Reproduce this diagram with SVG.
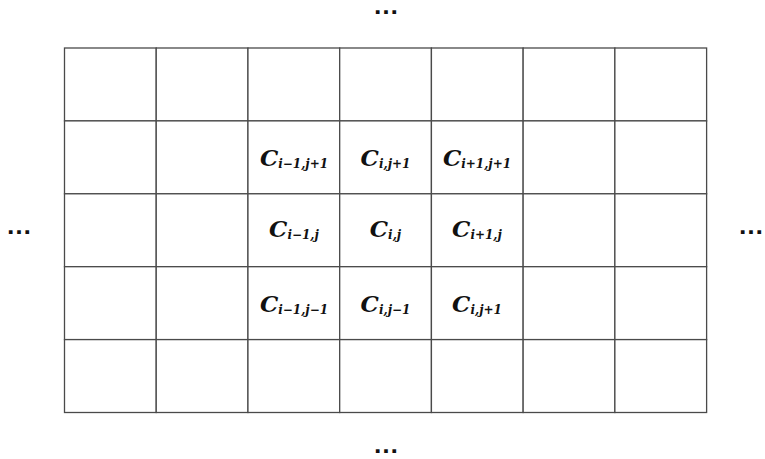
<svg xmlns="http://www.w3.org/2000/svg" width="765" height="459" viewBox="0 0 765 459">
  <style>
    .cell { fill: #ffffff; stroke: #4a4a4a; stroke-width: 1.3; }
    .lbl { font-family: "DejaVu Serif", "Liberation Serif", serif; font-weight: bold; font-style: italic; fill: #111111; }
    .c { font-size: 23px; }
    .s { font-size: 12px; }
    .dots { font-family: "Liberation Sans", Arial, sans-serif; font-weight: bold; font-size: 26px; fill: #111111; }
  </style>
  <rect width="765" height="459" fill="#ffffff"/>

  <!-- 7 x 5 grid of cells: column width 91.73, row height 72.9 -->
  <g id="grid">
    <g id="row1">
      <rect class="cell" x="64.5" y="48" width="91.73" height="72.9"/>
      <rect class="cell" x="156.23" y="48" width="91.73" height="72.9"/>
      <rect class="cell" x="247.96" y="48" width="91.73" height="72.9"/>
      <rect class="cell" x="339.69" y="48" width="91.73" height="72.9"/>
      <rect class="cell" x="431.42" y="48" width="91.73" height="72.9"/>
      <rect class="cell" x="523.15" y="48" width="91.73" height="72.9"/>
      <rect class="cell" x="614.88" y="48" width="91.73" height="72.9"/>
    </g>
    <g id="row2">
      <rect class="cell" x="64.5" y="120.9" width="91.73" height="72.9"/>
      <rect class="cell" x="156.23" y="120.9" width="91.73" height="72.9"/>
      <rect class="cell" x="247.96" y="120.9" width="91.73" height="72.9"/>
      <rect class="cell" x="339.69" y="120.9" width="91.73" height="72.9"/>
      <rect class="cell" x="431.42" y="120.9" width="91.73" height="72.9"/>
      <rect class="cell" x="523.15" y="120.9" width="91.73" height="72.9"/>
      <rect class="cell" x="614.88" y="120.9" width="91.73" height="72.9"/>
    </g>
    <g id="row3">
      <rect class="cell" x="64.5" y="193.8" width="91.73" height="72.9"/>
      <rect class="cell" x="156.23" y="193.8" width="91.73" height="72.9"/>
      <rect class="cell" x="247.96" y="193.8" width="91.73" height="72.9"/>
      <rect class="cell" x="339.69" y="193.8" width="91.73" height="72.9"/>
      <rect class="cell" x="431.42" y="193.8" width="91.73" height="72.9"/>
      <rect class="cell" x="523.15" y="193.8" width="91.73" height="72.9"/>
      <rect class="cell" x="614.88" y="193.8" width="91.73" height="72.9"/>
    </g>
    <g id="row4">
      <rect class="cell" x="64.5" y="266.7" width="91.73" height="72.9"/>
      <rect class="cell" x="156.23" y="266.7" width="91.73" height="72.9"/>
      <rect class="cell" x="247.96" y="266.7" width="91.73" height="72.9"/>
      <rect class="cell" x="339.69" y="266.7" width="91.73" height="72.9"/>
      <rect class="cell" x="431.42" y="266.7" width="91.73" height="72.9"/>
      <rect class="cell" x="523.15" y="266.7" width="91.73" height="72.9"/>
      <rect class="cell" x="614.88" y="266.7" width="91.73" height="72.9"/>
    </g>
    <g id="row5">
      <rect class="cell" x="64.5" y="339.6" width="91.73" height="72.9"/>
      <rect class="cell" x="156.23" y="339.6" width="91.73" height="72.9"/>
      <rect class="cell" x="247.96" y="339.6" width="91.73" height="72.9"/>
      <rect class="cell" x="339.69" y="339.6" width="91.73" height="72.9"/>
      <rect class="cell" x="431.42" y="339.6" width="91.73" height="72.9"/>
      <rect class="cell" x="523.15" y="339.6" width="91.73" height="72.9"/>
      <rect class="cell" x="614.88" y="339.6" width="91.73" height="72.9"/>
    </g>
  </g>

  <!-- neighbourhood labels -->
  <g id="c-im1-jp1"><text class="lbl" x="294" y="166" text-anchor="middle"><tspan class="c">C</tspan><tspan class="s" dy="2">i−1,j+1</tspan></text></g>
  <g id="c-i-jp1"><text class="lbl" x="385.5" y="166" text-anchor="middle"><tspan class="c">C</tspan><tspan class="s" dy="2">i,j+1</tspan></text></g>
  <g id="c-ip1-jp1"><text class="lbl" x="477" y="166" text-anchor="middle"><tspan class="c">C</tspan><tspan class="s" dy="2">i+1,j+1</tspan></text></g>

  <g id="c-im1-j"><text class="lbl" x="294" y="237" text-anchor="middle"><tspan class="c">C</tspan><tspan class="s" dy="2">i−1,j</tspan></text></g>
  <g id="c-i-j"><text class="lbl" x="385.5" y="237" text-anchor="middle"><tspan class="c">C</tspan><tspan class="s" dy="2">i,j</tspan></text></g>
  <g id="c-ip1-j"><text class="lbl" x="477" y="237" text-anchor="middle"><tspan class="c">C</tspan><tspan class="s" dy="2">i+1,j</tspan></text></g>

  <g id="c-im1-jm1"><text class="lbl" x="294" y="312" text-anchor="middle"><tspan class="c">C</tspan><tspan class="s" dy="2">i−1,j−1</tspan></text></g>
  <g id="c-i-jm1"><text class="lbl" x="385.5" y="312" text-anchor="middle"><tspan class="c">C</tspan><tspan class="s" dy="2">i,j−1</tspan></text></g>
  <g id="c-i-jp1-b"><text class="lbl" x="477" y="312" text-anchor="middle"><tspan class="c">C</tspan><tspan class="s" dy="2">i,j+1</tspan></text></g>

  <!-- continuation marks on each side -->
  <g id="more">
    <text class="dots" x="386" y="14" text-anchor="middle">…</text>
    <text class="dots" x="386" y="453" text-anchor="middle">…</text>
    <text class="dots" x="19" y="234" text-anchor="middle">…</text>
    <text class="dots" x="751" y="234" text-anchor="middle">…</text>
  </g>
  <g id="connectors"/>
</svg>
